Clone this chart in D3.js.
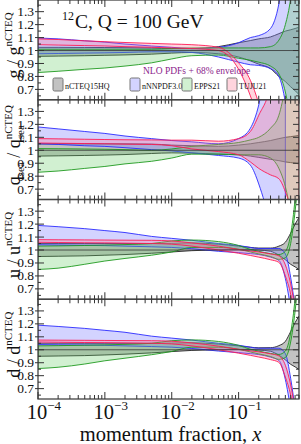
<!DOCTYPE html>
<html><head><meta charset="utf-8">
<script src="https://cdn.jsdelivr.net/npm/d3@7"></script>
<style>html,body{margin:0;padding:0;background:#fff;}svg{display:block;}</style>
</head><body><svg id="c" width="301" height="444"></svg>
<script>
// ---------------- DATA ----------------
const xs = [1e-4,2e-4,5e-4,1e-3,2e-3,5e-3,0.01,0.02,0.05,0.1,0.15,0.2,0.3,0.4,0.5,0.6,0.7,0.8];

// gluon
const g_ncteq_lo = [0.955,0.957,0.96,0.963,0.966,0.972,0.98,0.985,0.975,0.95,0.92,0.895,0.86,0.80,0.76,0.72,0.69,0.66];
const g_ncteq_hi = [1.025,1.025,1.024,1.023,1.022,1.02,1.015,1.015,1.03,1.06,1.077,1.09,1.105,1.13,1.15,1.16,1.17,1.18];
const g_nnpdf_lo = [0.975,0.977,0.98,0.982,0.985,0.99,0.99,0.985,0.95,0.91,0.89,0.885,0.86,0.80,0.60,0.30,0.0,-0.3];
const g_nnpdf_hi = [1.097,1.09,1.075,1.065,1.05,1.035,1.025,1.015,1.025,1.06,1.10,1.115,1.17,1.36,1.7,2.1,2.5,2.8];
const g_epps_lo  = [0.83,0.84,0.855,0.865,0.88,0.905,0.935,0.96,0.965,0.94,0.925,0.91,0.88,0.82,0.68,0.45,0.2,0.0];
const g_epps_hi  = [1.01,1.01,1.01,1.01,1.01,1.01,1.015,1.02,1.02,1.02,1.02,1.02,1.03,1.08,1.2,1.4,1.7,2.0];
const g_tuju_lo  = [1.045,1.042,1.038,1.035,1.03,1.025,1.02,1.015,1.0,0.855,0.65,0.45,0.1,-0.2,-0.5,-0.8,-1.0,-1.2];
const g_tuju_hi  = [1.09,1.085,1.075,1.068,1.062,1.055,1.05,1.045,1.025,0.905,0.77,0.59,0.2,-0.1,-0.4,-0.6,-0.8,-1.0];

// sea quark
const s_ncteq_lo = [0.955,0.957,0.96,0.963,0.967,0.975,0.98,0.978,0.97,0.965,0.955,0.945,0.93,0.92,0.91,0.905,0.9,0.895];
const s_ncteq_hi = [1.05,1.05,1.05,1.05,1.05,1.048,1.04,1.035,1.03,1.04,1.05,1.06,1.075,1.09,1.1,1.105,1.11,1.115];
const s_nnpdf_lo = [1.05,1.045,1.035,1.03,1.02,1.005,0.995,0.98,0.96,0.94,0.885,0.74,0.4,0.0,-0.5,null,null,null];
const s_nnpdf_hi = [1.18,1.165,1.145,1.13,1.11,1.09,1.075,1.065,1.05,1.09,1.17,1.35,1.9,2.5,3.0,null,null,null];
const s_epps_lo  = [0.83,0.84,0.86,0.875,0.895,0.915,0.94,0.97,0.97,0.965,0.965,0.965,0.94,0.86,0.72,0.52,0.3,0.1];
const s_epps_hi  = [1.013,1.012,1.01,1.008,1.005,1.0,1.01,1.03,1.045,1.06,1.08,1.1,1.17,1.27,1.5,1.8,2.1,2.4];
const s_tuju_lo  = [1.056,1.054,1.052,1.05,1.047,1.045,1.035,1.01,0.99,0.965,0.91,0.86,0.81,0.78,0.68,0.55,0.4,0.3];
const s_tuju_hi  = [1.09,1.088,1.085,1.083,1.081,1.08,1.078,1.078,1.07,1.09,1.145,1.27,1.5,1.9,2.3,2.6,2.9,3.2];

// u quark
const u_ncteq_lo = [0.95,0.952,0.955,0.96,0.965,0.975,0.985,0.995,1.0,1.003,1.003,1.0,0.99,0.96,0.925,0.89,0.87,0.85];
const u_ncteq_hi = [1.05,1.05,1.05,1.05,1.05,1.05,1.052,1.055,1.045,1.03,1.02,1.015,1.015,1.03,1.06,1.13,1.2,1.25];
const u_nnpdf_lo = [1.04,1.038,1.036,1.034,1.03,1.025,1.02,1.01,0.99,0.98,0.972,0.965,0.945,0.92,0.78,0.55,0.3,0.1];
const u_nnpdf_hi = [1.19,1.18,1.165,1.15,1.135,1.105,1.09,1.075,1.05,1.035,1.02,1.012,1.012,1.012,0.97,0.79,0.55,0.3];
const u_epps_lo  = [0.85,0.86,0.89,0.915,0.935,0.96,0.985,1.02,1.02,1.005,0.985,0.97,0.95,0.928,0.94,1.05,1.3,1.6];
const u_epps_hi  = [1.03,1.032,1.035,1.038,1.042,1.05,1.07,1.077,1.065,1.035,1.005,0.99,0.972,0.965,0.99,1.12,1.4,1.8];
const u_tuju_lo  = [1.06,1.058,1.056,1.055,1.053,1.05,1.045,1.03,1.0,0.975,0.958,0.945,0.925,0.905,0.8,0.66,0.45,0.3];
const u_tuju_hi  = [1.08,1.079,1.078,1.077,1.076,1.075,1.07,1.055,1.03,1.005,0.993,0.985,0.97,0.955,0.885,0.74,0.55,0.4];

// d quark
const d_ncteq_lo = [0.95,0.952,0.955,0.96,0.966,0.976,0.986,0.995,1.0,1.002,1.002,0.998,0.988,0.958,0.922,0.888,0.868,0.848];
const d_ncteq_hi = [1.05,1.05,1.05,1.05,1.05,1.05,1.052,1.054,1.044,1.03,1.02,1.015,1.016,1.032,1.065,1.14,1.21,1.26];
const d_nnpdf_lo = [1.04,1.038,1.036,1.034,1.03,1.025,1.02,1.01,0.99,0.978,0.97,0.963,0.943,0.918,0.77,0.54,0.3,0.1];
const d_nnpdf_hi = [1.19,1.18,1.165,1.15,1.135,1.105,1.09,1.075,1.05,1.035,1.02,1.012,1.012,1.012,0.97,0.78,0.54,0.3];
const d_epps_lo  = [0.855,0.865,0.89,0.915,0.935,0.962,0.987,1.02,1.02,1.003,0.983,0.968,0.948,0.926,0.94,1.06,1.3,1.6];
const d_epps_hi  = [1.03,1.032,1.035,1.038,1.042,1.05,1.07,1.076,1.064,1.034,1.004,0.99,0.972,0.964,0.99,1.13,1.4,1.8];
const d_tuju_lo  = [1.06,1.058,1.056,1.055,1.053,1.05,1.045,1.03,1.0,0.974,0.957,0.944,0.924,0.903,0.79,0.65,0.44,0.3];
const d_tuju_hi  = [1.075,1.074,1.073,1.072,1.071,1.07,1.066,1.053,1.028,1.004,0.992,0.984,0.969,0.953,0.88,0.73,0.54,0.4];

const setNames = ["nCTEQ15HQ","nNNPDF3.0","EPPS21","TUJU21"];
const yTickVals = [0.7,0.8,0.9,1.0,1.1,1.2,1.3];
const yTickLabels = ["0.7","0.8","0.9","1","1.1","1.2","1.3"];
const xTickVals = [1e-4,1e-3,1e-2,1e-1];
const xTickExps = ["\u22124","\u22123","\u22122","\u22121"];
// kind: 0 main, 1 subscript, 2 superscript, 3 subscript stacked under next superscript
const panelLabels = [
  [["g",0],[" / ",0],["g",0],["nCTEQ",2]],
  [["q",0],["sea",1],[" / ",0],["q",0],["sea",3],["nCTEQ",2]],
  [["u",0],[" / ",0],["u",0],["nCTEQ",2]],
  [["d",0],[" / ",0],["d",0],["nCTEQ",2]]
];
const panels = [
  [g_ncteq_lo,g_ncteq_hi,g_nnpdf_lo,g_nnpdf_hi,g_epps_lo,g_epps_hi,g_tuju_lo,g_tuju_hi],
  [s_ncteq_lo,s_ncteq_hi,s_nnpdf_lo,s_nnpdf_hi,s_epps_lo,s_epps_hi,s_tuju_lo,s_tuju_hi],
  [u_ncteq_lo,u_ncteq_hi,u_nnpdf_lo,u_nnpdf_hi,u_epps_lo,u_epps_hi,u_tuju_lo,u_tuju_hi],
  [d_ncteq_lo,d_ncteq_hi,d_nnpdf_lo,d_nnpdf_hi,d_epps_lo,d_epps_hi,d_tuju_lo,d_tuju_hi]
];

// ---------------- STYLE ----------------
const FONT = "'Liberation Serif','Times New Roman',serif";
const fills  = ["#777777","#8080ff","#66cc66","#ff7090"];
const fillOp = [0.45,0.35,0.3,0.3];
const strokes= ["#222222","#2a2aff","#1f9a1f","#ff1a55"];
const L = 38, R = 299, PH = 99.75;

const svg = d3.select("#c");
svg.append("rect").attr("width",301).attr("height",444).attr("fill","#fff");
const x = d3.scaleLog().domain([1e-4,0.8]).range([L,R]);

function measure(t,size,style){
  const el = svg.append("text").attr("font-family",FONT).attr("font-size",size)
    .attr("font-style",style||"normal").text(t);
  const w = el.node().getComputedTextLength(); el.remove(); return w;
}

panels.forEach((bands,pi)=>{
  const top = pi*PH, bot = top+PH;
  const y = d3.scaleLinear().domain([0.62,1.39]).range([bot,top]);
  const cid = "clip"+pi;
  svg.append("clipPath").attr("id",cid).append("rect")
     .attr("x",L).attr("y",top).attr("width",R-L).attr("height",PH);
  const g = svg.append("g").attr("clip-path",`url(#${cid})`);
  for(let k=0;k<4;k++){
    const lo = bands[2*k], hi = bands[2*k+1];
    const pts = xs.map((xv,i)=>({x:xv,lo:lo[i],hi:hi[i]}));
    const area = d3.area().defined(d=>d.lo!=null && d.hi!=null)
      .x(d=>x(d.x)).y0(d=>y(d.lo)).y1(d=>y(d.hi)).curve(d3.curveMonotoneX);
    g.append("path").attr("d",area(pts))
      .attr("fill",fills[k]).attr("fill-opacity",fillOp[k])
      .attr("stroke",strokes[k]).attr("stroke-width",0.9);
  }
  g.append("line").attr("x1",L).attr("x2",R).attr("y1",y(1)).attr("y2",y(1))
    .attr("stroke","#333").attr("stroke-width",0.8);

  svg.append("rect").attr("x",L).attr("y",top).attr("width",R-L).attr("height",PH)
    .attr("fill","none").attr("stroke","#444").attr("stroke-width",1.3);

  const ax = svg.append("g").attr("stroke","#333").attr("stroke-width",1);
  for(let k=13;k<=27;k++){
    const v=k*0.05, yy=y(v), major = (k%2===0);
    if(yy<top+1||yy>bot-1) continue;
    ax.append("line").attr("x1",major?L-3:L).attr("x2",L+(major?6:3)).attr("y1",yy).attr("y2",yy);
    ax.append("line").attr("x1",R-(major?6:3)).attr("x2",R).attr("y1",yy).attr("y2",yy);
  }
  yTickVals.forEach((v,i)=>{
    svg.append("text").attr("x",34).attr("y",y(v)+4.5).attr("text-anchor","end")
      .attr("font-family",FONT).attr("font-size",13.5).attr("fill","#111").text(yTickLabels[i]);
  });
  for(let e=-4;e<=-1;e++){
    for(let m=1;m<=9;m++){
      const xv=m*Math.pow(10,e); if(xv>0.8) continue;
      const xx=x(xv), len=(m===1)?7:4;
      ax.append("line").attr("x1",xx).attr("x2",xx).attr("y1",bot).attr("y2",bot-len);
      ax.append("line").attr("x1",xx).attr("x2",xx).attr("y1",top).attr("y2",top+len);
    }
  }
  // y title: one text element with tspans
  const parts = panelLabels[pi];
  const MAIN=18, SMALL=11;
  let total=0, subW=0;
  parts.forEach(([t,kind])=>{
    const w = measure(t, kind===0?MAIN:SMALL);
    if(kind===3){ subW=w; }
    else if(kind===2 && subW>0){ total+=Math.max(w,subW); subW=0; }
    else total+=w;
  });
  const lg = svg.append("g").attr("transform",`translate(19.5,${top+PH/2}) rotate(-90)`);
  const tx = lg.append("text").attr("x",-total/2).attr("y",0)
    .attr("font-family",FONT).attr("fill","#111");
  let curShift=0, pendingSub=0;
  parts.forEach(([t,kind])=>{
    const size = kind===0?MAIN:SMALL;
    const target = kind===0?0:(kind===2?-8:4);
    const ts = tx.append("tspan").attr("font-size",size).attr("dy",target-curShift).text(t);
    curShift = target;
    if(kind===3){ pendingSub = measure(t,SMALL); }
    else if(kind===2 && pendingSub>0){ ts.attr("dx",-pendingSub); pendingSub=0; }
  });
});

// x tick labels
xTickVals.forEach((v,i)=>{
  const xx = x(v)-1;
  const w = measure("10",20.5);
  const t = svg.append("text").attr("x",xx-w/2).attr("y",418.5)
    .attr("font-family",FONT).attr("fill","#111");
  t.append("tspan").attr("font-size",20.5).text("10");
  t.append("tspan").attr("font-size",13).attr("dy",-9).text(xTickExps[i]);
});
const xt = svg.append("text").attr("x",170.5).attr("y",440.5).attr("text-anchor","middle")
  .attr("font-family",FONT).attr("font-size",20.5).attr("fill","#111");
xt.append("tspan").text("momentum fraction, ");
xt.append("tspan").attr("font-style","italic").text("x");

// title
const tt = svg.append("text").attr("x",62).attr("y",28).attr("font-family",FONT).attr("fill","#111");
tt.append("tspan").attr("font-size",12).attr("dy",-8).text("12");
tt.append("tspan").attr("font-size",19.5).attr("dy",8).attr("dx",1).text("C, Q = 100 GeV");

// legend
svg.append("text").attr("x",143).attr("y",74).attr("font-family",FONT).attr("font-size",9.5)
  .attr("fill","#8b1c8b").text("NLO PDFs + 68% envelope");
const boxX = [53,130,182,227];
setNames.forEach((n,k)=>{
  svg.append("rect").attr("x",boxX[k]).attr("y",78).attr("width",10).attr("height",13).attr("rx",1.5)
    .attr("fill",fills[k]).attr("fill-opacity",fillOp[k]).attr("stroke","#777").attr("stroke-width",1);
  svg.append("text").attr("x",boxX[k]+12).attr("y",89).attr("font-family",FONT).attr("font-size",8)
    .attr("fill","#111").text(n);
});
</script></body></html>
